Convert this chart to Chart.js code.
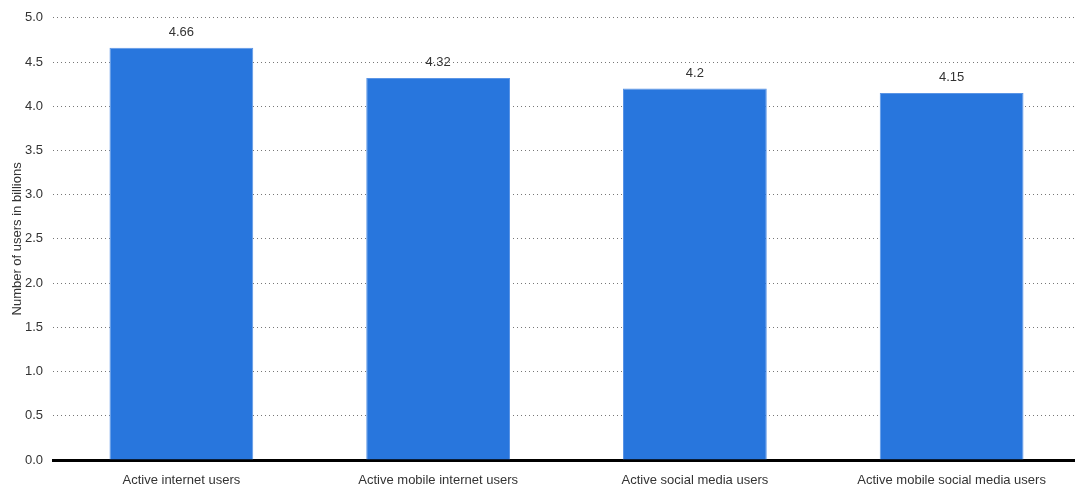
<!DOCTYPE html>
<html>
<head>
<meta charset="utf-8">
<script src="https://cdn.jsdelivr.net/npm/chart.js@4"></script>
<style>
  html, body { margin: 0; padding: 0; background: #fff; overflow: hidden; }
  #wrap { width: 1080px; height: 489px; }
</style>
</head>
<body>
<div id="wrap"><canvas id="grafico"></canvas></div>
<script>
const categorias = ['Active internet users', 'Active mobile internet users', 'Active social media users', 'Active mobile social media users'];
const usuarios = [4.66, 4.32, 4.2, 4.15];

const fonte = 'Liberation Sans, Arial, sans-serif';

// rotulos em cima das barras
const rotulos = {
    id: 'rotulos',
    afterDatasetsDraw(chart) {
        const ctx = chart.ctx;
        const meta = chart.getDatasetMeta(0);
        ctx.save();
        ctx.font = '13px ' + fonte;
        ctx.fillStyle = '#333';
        ctx.textAlign = 'center';
        ctx.textBaseline = 'bottom';
        meta.data.forEach((bar, i) => {
            ctx.fillText(String(usuarios[i]), bar.x, bar.y - 9);
        });
        ctx.restore();
    }
};

new Chart(document.getElementById('grafico'), {
    type: 'bar',
    data: {
        labels: categorias,
        datasets: [{
            data: usuarios,
            backgroundColor: '#2876dd',
            borderColor: '#5b95e6',
            borderWidth: { top: 1, left: 1, right: 1, bottom: 0 },
            categoryPercentage: 1,
            barPercentage: 0.56
        }]
    },
    options: {
        responsive: true,
        maintainAspectRatio: false,
        animation: false,
        layout: { padding: { top: 11, right: 0, left: 4, bottom: 0 } },
        plugins: { legend: { display: false }, tooltip: { enabled: false } },
        scales: {
            x: {
                afterFit: s => { s.height = 29; },
                grid: { display: false, drawTicks: false },
                border: { color: '#000', width: 3 },
                ticks: { color: '#333', font: { size: 13, family: fonte }, padding: 13 }
            },
            y: {
                min: 0,
                max: 5,
                afterFit: s => { s.width = 49; },
                ticks: {
                    stepSize: 0.5,
                    color: '#333',
                    padding: 10,
                    font: { size: 13, family: fonte },
                    callback: v => v.toFixed(1)
                },
                grid: { color: '#777', lineWidth: 1, drawTicks: false },
                border: { display: false, dash: [1, 3] },
                title: {
                    display: true,
                    text: 'Number of users in billions',
                    color: '#333',
                    font: { size: 13, family: fonte },
                    padding: { top: 6, bottom: 4 }
                }
            }
        }
    },
    plugins: [rotulos]
});
</script>
</body>
</html>
